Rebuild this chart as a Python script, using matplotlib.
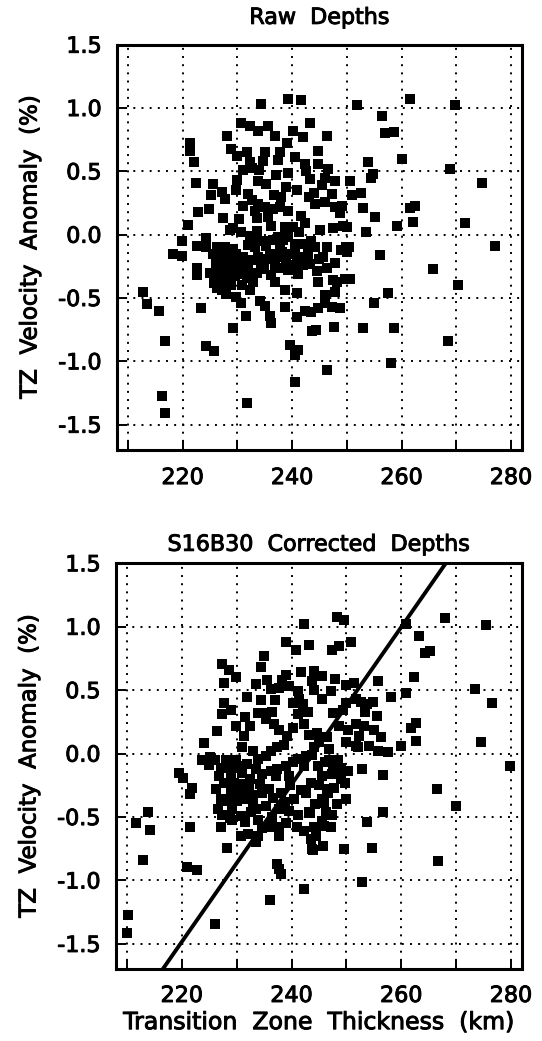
import numpy as np
import matplotlib
matplotlib.use('agg')
import matplotlib.pyplot as plt
import matplotlib.patheffects as pe
from matplotlib.ticker import MultipleLocator, FormatStrFormatter

plt.rcParams['font.family'] = ['DejaVu Sans']
plt.rcParams['axes.unicode_minus'] = False

# Raw depths: (thickness km, velocity anomaly %)
raw_pts = [
    (234.3, 1.03), (239.2, 1.07), (241.7, 1.06), (251.8, 1.02),
    (230.6, 0.88), (232.3, 0.86), (233.8, 0.82), (235.6, 0.86), (240.1, 0.82), (242.0, 0.77),
    (243.2, 0.88), (246.3, 0.78), (228.1, 0.78), (228.9, 0.68), (231.8, 0.65), (232.3, 0.57),
    (235.1, 0.65), (237.7, 0.65), (237.4, 0.59), (240.5, 0.61), (242.3, 0.56), (242.6, 0.50),
    (244.8, 0.56), (246.5, 0.52), (221.4, 0.72), (221.4, 0.66), (222.1, 0.57),
    (231.0, 0.51), (232.6, 0.53), (233.9, 0.51), (237.0, 0.47), (239.3, 0.49),
    (222.5, 0.41), (225.5, 0.40), (227.1, 0.34), (225.2, 0.31), (227.7, 0.28),
    (230.0, 0.43), (229.7, 0.35), (233.8, 0.42), (235.3, 0.40), (236.7, 0.31), (238.8, 0.38),
    (245.4, 0.39), (247.8, 0.42), (247.2, 0.32), (250.5, 0.42), (250.9, 0.31), (252.6, 0.33),
    (232.0, 0.32), (232.6, 0.27), (233.8, 0.24),
    (222.8, 0.18), (227.4, 0.13), (233.2, 0.19), (233.5, 0.13), (235.6, 0.14), (237.7, 0.22),
    (239.3, 0.19), (241.7, 0.15), (242.3, 0.09), (241.3, 0.02), (244.1, 0.24), (246.0, 0.26),
    (247.8, 0.22), (248.7, 0.17), (236.1, 0.07), (238.7, 0.06), (240.2, 0.06), (247.5, 0.05),
    (249.3, 0.07), (229.2, 0.05), (230.7, 0.02), (232.3, -0.01), (233.5, 0.03),
    (222.7, -0.09), (224.2, -0.03), (224.3, -0.10), (226.2, -0.10), (227.7, -0.10), (229.2, -0.11),
    (232.0, -0.08), (233.5, -0.03), (233.2, -0.10), (235.9, -0.15), (237.7, -0.10), (237.1, -0.18),
    (239.3, -0.02), (241.1, -0.07), (239.9, -0.15), (242.6, -0.07), (244.1, -0.10), (246.3, -0.10),
    (245.7, -0.18), (249.0, -0.12), (249.9, -0.10), (247.8, -0.22),
    (222.7, -0.26), (222.7, -0.32), (225.0, -0.30), (227.1, -0.23), (228.9, -0.20), (226.8, -0.32),
    (227.4, -0.37), (227.1, -0.44), (228.9, -0.40), (231.0, -0.18), (232.0, -0.27), (230.7, -0.31),
    (233.8, -0.18), (235.6, -0.19), (236.2, -0.32), (237.7, -0.26), (239.3, -0.28), (240.5, -0.24),
    (242.0, -0.24), (243.2, -0.23), (244.5, -0.29), (244.8, -0.37), (246.3, -0.26), (247.5, -0.36),
    (249.6, -0.35), (238.7, -0.44), (240.8, -0.46),
    (232.3, -0.44), (229.8, -0.49), (230.7, -0.54), (231.6, -0.64), (234.1, -0.52), (235.0, -0.56),
    (235.9, -0.64), (236.2, -0.70), (238.7, -0.57), (240.8, -0.65), (242.3, -0.60), (243.5, -0.61),
    (244.8, -0.58), (246.0, -0.54), (247.2, -0.57), (248.7, -0.58), (247.8, -0.45), (246.0, -0.48),
    (243.7, -0.76), (247.6, -0.73), (252.9, -0.74), (223.3, -0.58), (229.2, -0.74),
    (224.2, -0.88), (225.7, -0.92), (239.6, -0.87), (241.1, -0.91), (240.5, -0.95), (246.3, -1.07),
    (240.5, -1.16),
    (226.5, -0.18), (228.3, -0.18), (226.8, -0.26), (228.6, -0.28), (229.5, -0.33), (228.0, -0.47),
    (230.1, -0.26), (231.6, -0.20), (236.5, -0.04), (237.4, -0.02), (238.4, -0.04), (242.0, -0.18),
    (242.9, -0.15), (241.1, -0.31), (236.8, -0.37), (234.4, -0.23), (233.2, -0.20),
    (225.5, -0.15), (226.0, -0.22), (225.8, -0.38), (226.3, -0.42), (227.9, -0.33), (228.2, -0.24),
    (229.8, -0.15), (230.3, -0.21), (230.9, -0.40), (231.8, -0.34), (232.8, -0.37), (233.6, -0.30),
    (234.9, -0.27), (235.2, -0.09), (234.6, -0.05), (236.9, -0.24), (238.2, -0.14), (238.9, -0.20),
    (240.6, -0.10), (240.9, -0.18), (243.5, -0.05), (244.9, -0.19), (245.0, 0.04), (243.0, 0.30),
    (244.0, 0.33), (236.5, 0.20), (235.0, 0.22), (231.0, 0.23), (230.2, 0.12), (228.6, 0.04),
    (224.8, 0.20), (238.0, 0.30), (240.8, 0.35), (243.2, 0.44), (246.0, 0.45), (234.7, 0.58),
    (230.0, 0.62), (239.0, 0.72), (236.9, 0.78), (244.8, 0.66),
    (261.5, 1.07), (269.7, 1.02), (256.4, 0.94), (257.0, 0.80), (258.7, 0.81), (260.1, 0.60),
    (253.9, 0.57), (254.8, 0.48), (254.4, 0.45), (268.9, 0.52), (274.6, 0.41), (252.9, 0.21),
    (255.2, 0.14), (259.1, 0.07), (261.6, 0.21), (262.5, 0.23), (262.1, 0.10), (271.5, 0.09),
    (253.5, 0.02), (277.1, -0.09), (249.1, 0.23), (250.0, 0.06),
    (220.9, 0.08), (219.9, -0.05), (218.2, -0.15), (219.9, -0.17), (212.7, -0.45), (213.5, -0.55),
    (215.6, -0.60), (216.7, -0.84), (216.2, -1.27), (216.8, -1.41), (231.8, -1.33),
    (265.8, -0.27), (270.3, -0.40), (256.1, -0.16), (257.5, -0.46), (254.9, -0.54), (258.7, -0.74),
    (268.4, -0.84), (258.1, -1.01), (250.3, -0.10), (250.0, -0.14), (250.6, -0.35), (248.2, -0.37),
    (244.4, -0.75),
]

# S16B30 corrected depths
corr_pts = [
    (242.2, 1.02), (249.6, 1.05), (248.2, 1.08), (238.9, 0.88), (240.8, 0.82), (243.2, 0.86),
    (247.4, 0.82), (248.7, 0.85), (250.8, 0.88), (235.0, 0.77), (227.4, 0.71), (228.6, 0.66),
    (234.4, 0.68), (227.6, 0.56), (233.5, 0.55), (235.5, 0.58), (238.9, 0.62), (238.3, 0.58),
    (239.5, 0.53), (241.7, 0.64), (244.1, 0.65), (245.6, 0.61), (243.8, 0.57), (247.9, 0.59),
    (249.9, 0.54), (251.4, 0.56), (236.2, 0.51), (237.7, 0.52), (241.1, 0.49), (241.4, 0.43),
    (240.2, 0.40), (242.0, 0.39), (241.1, 0.31), (247.1, 0.49), (227.7, 0.40), (228.9, 0.34),
    (227.4, 0.31), (234.4, 0.42), (233.8, 0.32), (234.7, 0.32), (231.5, 0.29), (235.3, 0.27),
    (236.8, 0.23), (237.7, 0.19), (239.2, 0.14), (238.6, 0.07), (242.3, 0.23), (243.2, 0.15),
    (244.7, 0.16), (246.5, 0.13), (245.0, 0.09), (249.9, 0.40), (249.3, 0.34), (251.7, 0.43),
    (248.7, 0.22), (250.2, 0.19), (251.7, 0.23), (249.9, 0.09), (251.7, 0.06),
    (226.4, 0.18), (231.3, 0.14), (231.0, 0.05), (224.0, 0.08),
    (227.1, -0.11), (226.8, -0.18), (228.6, -0.10), (228.9, -0.16), (230.1, -0.10), (231.0, -0.15),
    (227.7, -0.23), (229.5, -0.23), (231.0, -0.24), (228.9, -0.31), (230.7, -0.31), (232.2, -0.28),
    (227.1, -0.36), (228.3, -0.37), (230.1, -0.37), (231.6, -0.36), (226.5, -0.44), (227.4, -0.48),
    (232.9, 0.02), (233.8, -0.04), (235.3, -0.02), (236.2, 0.02), (237.4, 0.05),
    (233.5, -0.12), (234.7, -0.16), (236.2, -0.14), (237.1, -0.18), (237.4, -0.12), (238.9, -0.10),
    (239.5, -0.18), (234.7, -0.31), (238.0, -0.31), (239.8, -0.25), (241.7, -0.29), (242.6, -0.31),
    (235.3, -0.41), (237.7, -0.44), (239.5, -0.45), (241.1, -0.48), (243.2, -0.46),
    (240.2, -0.07), (241.1, -0.04), (242.6, -0.02), (243.8, -0.01), (242.3, -0.10),
    (244.9, -0.10), (246.1, -0.07), (247.6, -0.10), (249.1, -0.12), (250.3, -0.14), (245.5, -0.18),
    (247.3, -0.16), (249.1, -0.20), (249.7, -0.23), (245.0, -0.25), (246.5, -0.28), (247.8, -0.27),
    (245.6, -0.36), (246.2, -0.46), (245.6, -0.53), (247.1, -0.58), (249.9, -0.36),
    (244.1, -0.58), (244.4, -0.65), (242.3, -0.61), (247.4, -0.48),
    (227.1, -0.58), (229.2, -0.52), (230.7, -0.49), (231.6, -0.54), (232.6, -0.46), (233.5, -0.44),
    (230.7, -0.65), (233.8, -0.65), (234.7, -0.59), (235.9, -0.58), (237.7, -0.58), (237.7, -0.65),
    (228.3, -0.74), (233.5, -0.70), (243.7, -0.75), (245.8, -0.73), (249.6, -0.75),
    (237.3, -0.87), (237.7, -0.91), (238.1, -0.95), (242.3, -1.07), (236.1, -1.15),
    (228.8, -0.51), (232.1, -0.63), (243.9, -0.76), (243.6, -0.67),
    (246.0, -0.39), (246.6, -0.31), (243.6, -0.23), (243.3, -0.47), (246.0, -0.57), (248.8, -0.11),
    (246.9, -0.05),
    (229.8, -0.05), (231.8, -0.08), (232.4, -0.20), (233.0, -0.33), (232.9, -0.40), (229.2, -0.44),
    (228.0, -0.05), (226.2, -0.28), (229.9, -0.29), (234.2, -0.24), (235.8, -0.28), (236.6, -0.35),
    (233.9, -0.52), (236.5, -0.50), (238.8, -0.38), (240.5, -0.36), (239.0, -0.55), (240.9, -0.58),
    (244.3, -0.40), (248.2, -0.40), (248.5, -0.05), (244.0, 0.05), (246.8, 0.04), (240.2, 0.20),
    (236.5, 0.33), (232.5, 0.22), (229.8, 0.22), (237.0, 0.42), (243.0, 0.33), (245.5, 0.43),
    (247.6, 0.32), (244.0, 0.50), (231.9, 0.45), (229.8, 0.60),
    (267.9, 1.07), (275.5, 1.01), (260.8, 1.02), (263.2, 0.93), (264.3, 0.79), (265.2, 0.81),
    (262.3, 0.60), (255.8, 0.57), (273.4, 0.51), (276.5, 0.40), (258.1, 0.45), (260.8, 0.48),
    (252.6, 0.41), (253.8, 0.39), (254.8, 0.41), (253.3, 0.33), (255.5, 0.30), (262.7, 0.24),
    (261.8, 0.20), (274.5, 0.09), (262.7, 0.10), (260.0, 0.06), (256.3, 0.13), (255.8, 0.02),
    (257.5, 0.01), (254.2, 0.06), (253.2, 0.22), (255.0, 0.19), (252.3, 0.14), (252.1, 0.05),
    (279.8, -0.10), (266.5, -0.28), (270.0, -0.41), (256.7, -0.17), (252.9, -0.12), (256.6, -0.46),
    (253.7, -0.54), (254.6, -0.74), (266.6, -0.85), (252.9, -1.01),
    (223.6, -0.05), (225.1, -0.03), (226.1, -0.05), (224.9, -0.09), (219.4, -0.15), (220.3, -0.19),
    (221.8, -0.27), (221.5, -0.32), (213.9, -0.46), (211.6, -0.55), (214.2, -0.60), (221.5, -0.58),
    (213.0, -0.84), (220.9, -0.89), (222.7, -0.92), (226.1, -1.34), (210.2, -1.27), (210.0, -1.41),
]

# regression line in corrected panel
fit_x = [216.5, 268.1]
fit_y = [-1.7, 1.5]

titles = ['Raw  Depths', 'S16B30  Corrected  Depths']
title_pads = [15, 9]
ylabel = 'TZ  Velocity  Anomaly  (%)'
xlabel = 'Transition  Zone  Thickness  (km)'

# heavier pen strokes for all text
thick = [pe.withStroke(linewidth=0.7, foreground='black')]

W, H = 542, 1041
fig = plt.figure(figsize=(W / 100, H / 100), dpi=100)
ax1 = fig.add_axes([117 / W, 1 - 450 / H, 405 / W, 405.3 / H])
ax2 = fig.add_axes([116 / W, 1 - 969.3 / H, 406 / W, 406 / H])

for ax, pts, title, tpad in [(ax1, raw_pts, titles[0], title_pads[0]),
                             (ax2, corr_pts, titles[1], title_pads[1])]:
    arr = np.array(pts)
    ax.plot(arr[:, 0], arr[:, 1], 's', color='black', markersize=6.8,
            markeredgewidth=0, zorder=3)
    ax.set_xlim(208, 282)
    ax.set_ylim(-1.7, 1.5)
    ax.xaxis.set_major_locator(MultipleLocator(20))
    ax.xaxis.set_minor_locator(MultipleLocator(10))
    ax.yaxis.set_major_locator(MultipleLocator(0.5))
    ax.yaxis.set_major_formatter(FormatStrFormatter('%.1f'))
    ax.grid(True, which='both', color='black', linestyle=(0, (1, 3.2)), linewidth=1.4)
    ax.tick_params(which='both', direction='in', length=7, width=1.4,
                   labelsize=16, top=False, right=False)
    ax.tick_params(axis='y', pad=11)
    for s in ax.spines.values():
        s.set_linewidth(2.2)
    ax.set_title(title, fontsize=16, pad=tpad, path_effects=thick)
    ax.set_ylabel(ylabel, fontsize=16.5, labelpad=12, path_effects=thick)
    for lab in ax.get_xticklabels() + ax.get_yticklabels():
        lab.set_path_effects(thick)

ax1.tick_params(axis='x', pad=13)
ax2.tick_params(axis='x', pad=12)
ax2.plot(fit_x, fit_y, color='black', linewidth=2.8, zorder=4, clip_on=True)
ax2.set_xlabel(xlabel, fontsize=17, labelpad=3, path_effects=thick)

fig.savefig('out.png', dpi=100, facecolor='white')
